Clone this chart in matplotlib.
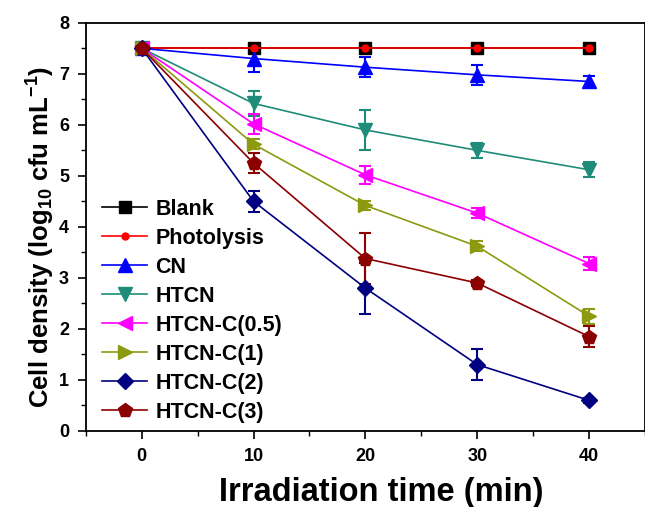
import numpy as np
import matplotlib.pyplot as plt

plt.rcParams['font.family'] = ['Liberation Sans', 'DejaVu Sans']
plt.rcParams['font.weight'] = 'bold'
plt.rcParams['mathtext.fontset'] = 'custom'
plt.rcParams['mathtext.bf'] = 'Liberation Sans:bold'
plt.rcParams['mathtext.rm'] = 'Liberation Sans:bold'
plt.rcParams['mathtext.default'] = 'bf'

# Irradiation time (min)
time = [0, 10, 20, 30, 40]

# Cell density, log10 cfu/mL, with error bars
blank = [7.5, 7.5, 7.5, 7.5, 7.5]
photolysis = [7.5, 7.5, 7.5, 7.5, 7.5]
cn = [7.5, 7.3, 7.13, 6.98, 6.85]
cn_err = [0.0, 0.27, 0.2, 0.2, 0.1]
htcn = [7.5, 6.42, 5.9, 5.5, 5.12]
htcn_err = [0.0, 0.25, 0.4, 0.15, 0.15]
htcn_c05 = [7.5, 6.02, 5.02, 4.27, 3.28]
htcn_c05_err = [0.0, 0.2, 0.18, 0.1, 0.12]
htcn_c1 = [7.5, 5.62, 4.42, 3.62, 2.25]
htcn_c1_err = [0.0, 0.1, 0.08, 0.1, 0.15]
htcn_c2 = [7.5, 4.5, 2.8, 1.3, 0.6]
htcn_c2_err = [0.0, 0.2, 0.5, 0.3, 0.05]
htcn_c3 = [7.5, 5.25, 3.38, 2.9, 1.85]
htcn_c3_err = [0.0, 0.2, 0.5, 0.05, 0.2]

labels = ['Blank', 'Photolysis', 'CN', 'HTCN', 'HTCN-C(0.5)',
          'HTCN-C(1)', 'HTCN-C(2)', 'HTCN-C(3)']
values = [blank, photolysis, cn, htcn, htcn_c05, htcn_c1, htcn_c2, htcn_c3]
errors = [None, None, cn_err, htcn_err, htcn_c05_err, htcn_c1_err,
          htcn_c2_err, htcn_c3_err]
colors = ['#000000', '#ff0000', '#0000ff', '#1e8c78', '#ff00ff',
          '#8c9a10', '#000080', '#8b0000']
markers = ['s', 'o', '^', 'v', '<', '>', 'D', 'p']
msizes = [8, 5, 9.5, 9.5, 9.5, 9.5, 8, 10]

fig = plt.figure(figsize=(6.45, 5.07), dpi=100)
ax = fig.add_axes([0.133, 0.15, 0.867, 0.805])

handles = []
for y, e, lab, c, m, ms in zip(values, errors, labels, colors, markers, msizes):
    cont = ax.errorbar(time, y, yerr=e, color=c, marker=m, markersize=ms,
                       markeredgecolor=c, linewidth=1.2, elinewidth=1.5,
                       capsize=4, capthick=1.5)
    handles.append(cont[0])

ax.set_xlim(-5, 45)
ax.set_ylim(0, 8)
ax.set_xticks([0, 10, 20, 30, 40])
ax.set_xticks([-5, 5, 15, 25, 35, 45], minor=True)
ax.set_yticks(range(0, 9))
ax.set_yticks(np.arange(0.5, 8, 1.0), minor=True)
ax.tick_params(axis='both', which='major', direction='out', length=6,
               width=1.2, labelsize=13, pad=6)
ax.tick_params(axis='both', which='minor', direction='out', length=3.5,
               width=1)
for lbl in ax.get_xticklabels() + ax.get_yticklabels():
    lbl.set_fontweight('bold')
for side in ['left', 'bottom', 'top', 'right']:
    ax.spines[side].set_linewidth(1.3)

ax.set_xlabel('Irradiation time (min)', fontsize=23.5, fontweight='bold')
ax.set_ylabel('Cell density (log$_{10}$ cfu mL$^{-1}$)', fontsize=18.5,
              fontweight='bold')
ax.xaxis.set_label_coords(0.528, -0.112)
ax.yaxis.set_label_coords(-0.051, 0.475)

# legend without the error-bar glyphs
leg = ax.legend(handles, labels, loc='lower left',
                bbox_to_anchor=(0.029, 0.02), frameon=False,
                fontsize=15.5, handlelength=2.1, handletextpad=0.37,
                labelspacing=0.37, borderpad=0, borderaxespad=0)
for t in leg.get_texts():
    t.set_fontweight('bold')

fig.savefig('out.png', dpi=100)
